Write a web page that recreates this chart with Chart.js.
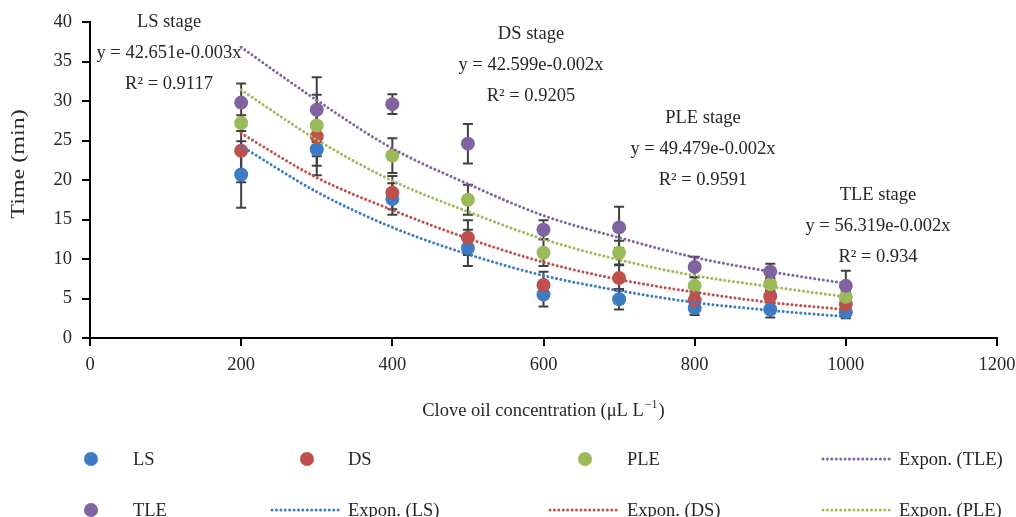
<!DOCTYPE html>
<html>
<head>
<meta charset="utf-8">
<script src="https://cdn.jsdelivr.net/npm/chart.js@4.4.1/dist/chart.umd.min.js"></script>
<style>
  html, body { margin: 0; padding: 0; background: #fff; }
  #wrap { width: 1016px; height: 517px; }
</style>
</head>
<body>
<div id="wrap"><canvas id="chart" width="1016" height="517"></canvas></div>
<script>
// Clove oil concentration (µL/L) and stage times (min), mean ± SD
const conc = [200, 300, 400, 500, 600, 700, 800, 900, 1000];
const lsMean = [20.7, 23.9, 17.6, 11.4, 5.5, 4.9, 3.8, 3.6, 3.3];
const lsErr = [4.2, 3.3, 2.0, 2.3, 1.5, 1.3, 0.9, 1.0, 0.8];
const dsMean = [23.7, 25.5, 18.4, 12.7, 6.7, 7.6, 4.8, 5.3, 4.3];
const dsErr = [4.0, 3.7, 2.1, 2.2, 1.7, 1.6, 1.0, 0.8, 0.7];
const pleMean = [27.2, 26.9, 23.1, 17.5, 10.8, 10.8, 6.6, 6.8, 5.2];
const pleErr = [1.0, 3.9, 2.2, 1.9, 1.7, 1.5, 1.1, 0.8, 0.7];
const tleMean = [29.8, 28.9, 29.6, 24.6, 13.7, 14.0, 9.0, 8.4, 6.6];
const tleErr = [2.4, 4.1, 1.25, 2.5, 1.2, 2.6, 1.3, 1.0, 1.9];

// exponential trend curves, read at each concentration
const lsFit = [24.3, 18.5, 14.0, 10.6, 7.9, 6.0, 4.5, 3.5, 2.7];
const dsFit = [25.9, 20.3, 16.2, 12.6, 9.6, 7.4, 5.8, 4.5, 3.6];
const pleFit = [31.4, 25.1, 19.9, 16.0, 12.5, 9.9, 7.9, 6.5, 5.2];
const tleFit = [36.8, 30.1, 24.0, 19.5, 15.5, 12.7, 10.2, 8.4, 6.9];

const xTicks = [0, 200, 400, 600, 800, 1000, 1200];
const yTicks = [0, 5, 10, 15, 20, 25, 30, 35, 40];

const stageLabels = [
  ["LS stage", "y = 42.651e-0.003x", "R² = 0.9117"],
  ["DS stage", "y = 42.599e-0.002x", "R² = 0.9205"],
  ["PLE stage", "y = 49.479e-0.002x", "R² = 0.9591"],
  ["TLE stage", "y = 56.319e-0.002x", "R² = 0.934"]
];

const C = { LS: "#3d7bc4", DS: "#c0504d", PLE: "#9bbb59", TLE: "#8064a2" };
const FONT = "'Liberation Serif', 'Times New Roman', serif";
const FS = 18.5;
const INK = "#262626";

const pts = (ys) => ys.map((y, i) => ({ x: conc[i], y }));

function marker(label, ys, errs, color, order) {
  return { label, data: pts(ys), errs, backgroundColor: color, borderWidth: 0,
    pointRadius: 7, pointHoverRadius: 7, showLine: false, order };
}
function trend(label, ys, color) {
  return { label, data: pts(ys), borderColor: color, borderWidth: 3,
    borderDash: [0.01, 4.4], borderCapStyle: "round", pointRadius: 0,
    showLine: true, cubicInterpolationMode: "monotone", fill: false, order: 0 };
}

const errorBars = {
  id: "errorBars",
  beforeDatasetsDraw(chart) {
    const { ctx, scales: { x, y } } = chart;
    ctx.save();
    ctx.strokeStyle = "#404040";
    ctx.lineWidth = 2;
    chart.data.datasets.forEach(ds => {
      if (!ds.errs) return;
      ds.data.forEach((p, i) => {
        const px = x.getPixelForValue(p.x);
        const top = y.getPixelForValue(p.y + ds.errs[i]);
        const bot = y.getPixelForValue(p.y - ds.errs[i]);
        ctx.beginPath();
        ctx.moveTo(px, top); ctx.lineTo(px, bot);
        ctx.moveTo(px - 5, top); ctx.lineTo(px + 5, top);
        ctx.moveTo(px - 5, bot); ctx.lineTo(px + 5, bot);
        ctx.stroke();
      });
    });
    ctx.restore();
  }
};

const decorations = {
  id: "decorations",
  afterDraw(chart) {
    const { ctx, chartArea: a } = chart;
    const f = (s) => s + "px " + FONT;
    ctx.save();
    ctx.fillStyle = INK;
    ctx.font = f(FS);
    ctx.textBaseline = "middle";
    ctx.textAlign = "center";

    // trend equations per stage
    const spots = [[169, 22], [531, 34], [703, 118], [878, 195]];
    stageLabels.forEach((lines, i) => {
      const [cx, cy] = spots[i];
      lines.forEach((t, j) => ctx.fillText(t, cx, cy + j * 31));
    });

    // y title, drawn a little stretched along its length
    ctx.save();
    ctx.translate(19, 164);
    ctx.rotate(-Math.PI / 2);
    ctx.scale(1.3, 1);
    ctx.fillText("Time (min)", 0, 0);
    ctx.restore();

    // x title with superscript
    const main = "Clove oil concentration (μL L", sup = "−1", tail = ")";
    ctx.font = f(FS);
    const w1 = ctx.measureText(main).width, w3 = ctx.measureText(tail).width;
    ctx.font = f(12);
    const w2 = ctx.measureText(sup).width;
    const tx = (a.left + a.right) / 2 - (w1 + w2 + w3 + 2) / 2;
    const ty = 411;
    ctx.textAlign = "left";
    ctx.font = f(FS);
    ctx.fillText(main, tx, ty);
    ctx.font = f(12);
    ctx.fillText(sup, tx + w1 + 1, ty - 6);
    ctx.font = f(FS);
    ctx.fillText(tail, tx + w1 + w2 + 2, ty);

    // legend, two rows of four
    const rows = [459, 510];
    const items = [
      { t: "LS", c: C.LS, dot: true, x: 91, tx: 133, r: 0 },
      { t: "DS", c: C.DS, dot: true, x: 307, tx: 348, r: 0 },
      { t: "PLE", c: C.PLE, dot: true, x: 585, tx: 627, r: 0 },
      { t: "Expon. (TLE)", c: C.TLE, dot: false, x: 823, tx: 899, r: 0 },
      { t: "TLE", c: C.TLE, dot: true, x: 91, tx: 133, r: 1 },
      { t: "Expon. (LS)", c: C.LS, dot: false, x: 272, tx: 348, r: 1 },
      { t: "Expon. (DS)", c: C.DS, dot: false, x: 550, tx: 627, r: 1 },
      { t: "Expon. (PLE)", c: C.PLE, dot: false, x: 823, tx: 899, r: 1 }
    ];
    items.forEach(it => {
      const yy = rows[it.r];
      if (it.dot) {
        ctx.fillStyle = it.c;
        ctx.beginPath(); ctx.arc(it.x, yy, 7, 0, Math.PI * 2); ctx.fill();
      } else {
        ctx.strokeStyle = it.c; ctx.lineWidth = 3; ctx.lineCap = "round";
        ctx.setLineDash([0.01, 4.4]);
        ctx.beginPath(); ctx.moveTo(it.x, yy); ctx.lineTo(it.x + 67, yy); ctx.stroke();
        ctx.setLineDash([]);
      }
      ctx.fillStyle = INK;
      ctx.fillText(it.t, it.tx, yy + 1);
    });
    ctx.restore();
  }
};

new Chart(document.getElementById("chart"), {
  type: "scatter",
  data: {
    datasets: [
      trend("Expon. (LS)", lsFit, C.LS),
      trend("Expon. (DS)", dsFit, C.DS),
      trend("Expon. (PLE)", pleFit, C.PLE),
      trend("Expon. (TLE)", tleFit, C.TLE),
      marker("TLE", tleMean, tleErr, C.TLE, 1),
      marker("PLE", pleMean, pleErr, C.PLE, 2),
      marker("DS", dsMean, dsErr, C.DS, 3),
      marker("LS", lsMean, lsErr, C.LS, 4)
    ]
  },
  options: {
    responsive: false,
    animation: false,
    layout: { padding: { top: 22, right: 19, left: 0, bottom: 0 } },
    plugins: { legend: { display: false }, tooltip: { enabled: false } },
    scales: {
      x: {
        type: "linear", min: 0, max: 1200,
        afterBuildTicks: s => { s.ticks = xTicks.map(v => ({ value: v })); },
        afterFit: s => { s.height = 179; s.paddingLeft = 0; s.paddingRight = 0; },
        ticks: { color: INK, font: { family: FONT, size: FS }, padding: 8, maxRotation: 0,
          callback: v => String(v) },
        grid: { drawOnChartArea: false, drawTicks: true, tickLength: 8, color: "#000", lineWidth: 2 },
        border: { color: "#000", width: 2 }
      },
      y: {
        min: 0, max: 40,
        afterBuildTicks: s => { s.ticks = yTicks.map(v => ({ value: v })); },
        afterFit: s => { s.width = 90; s.paddingTop = 0; s.paddingBottom = 0; },
        ticks: { color: INK, font: { family: FONT, size: FS }, padding: 10,
          callback: v => String(v) },
        grid: { drawOnChartArea: false, drawTicks: true, tickLength: 8, color: "#000", lineWidth: 2 },
        border: { color: "#000", width: 2 }
      }
    }
  },
  plugins: [errorBars, decorations]
});
</script>
</body>
</html>
